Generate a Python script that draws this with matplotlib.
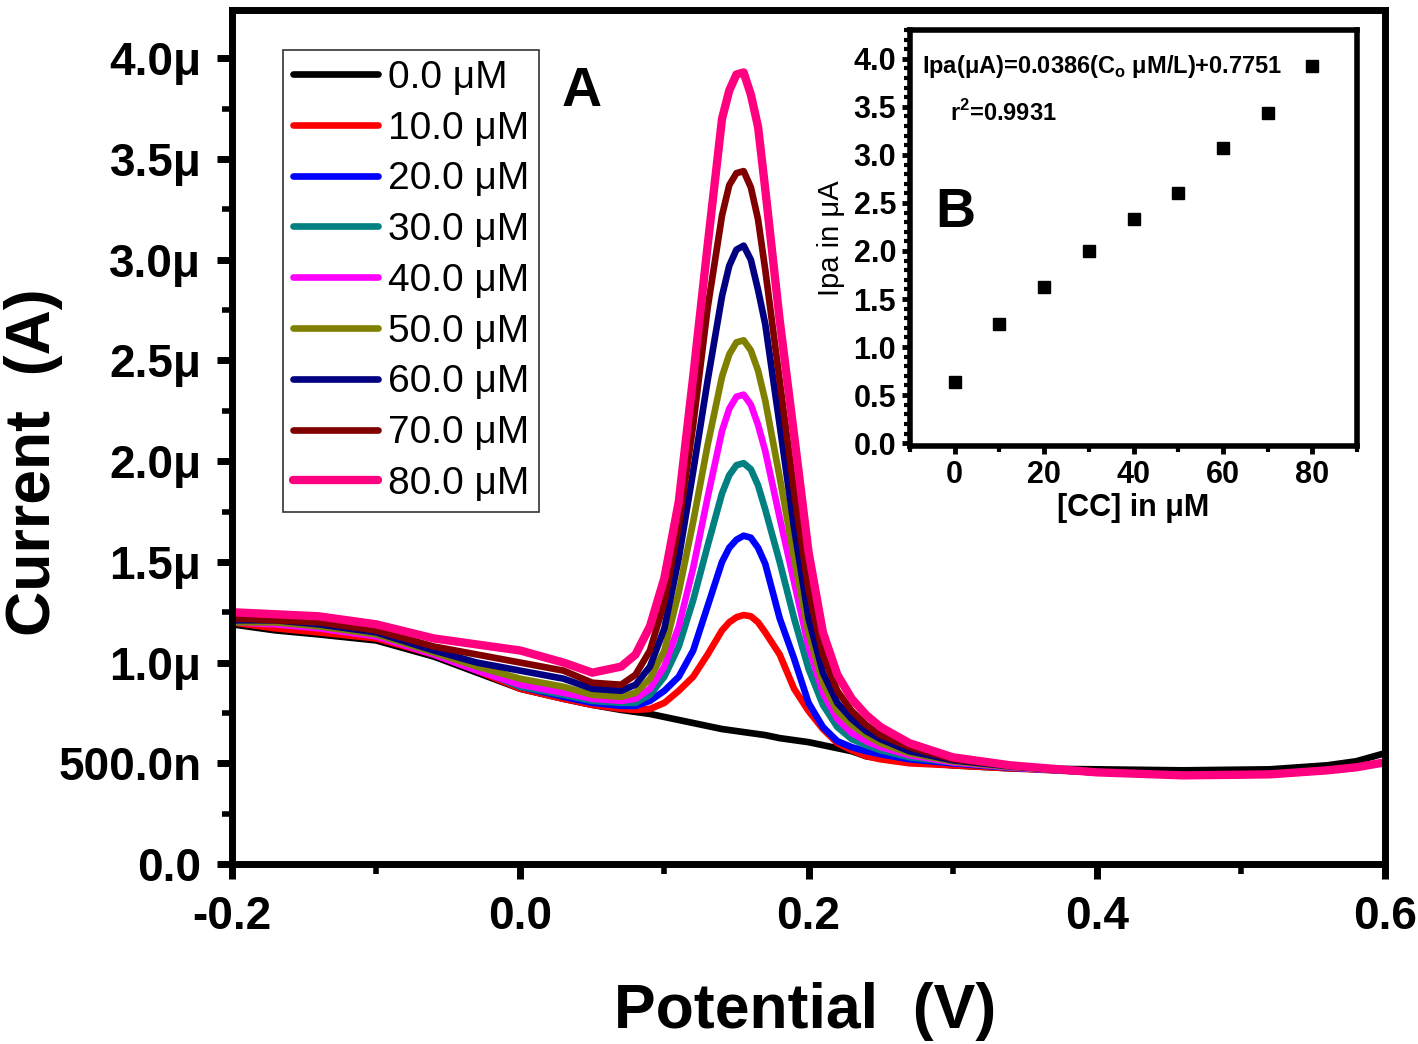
import numpy as np
import matplotlib
matplotlib.use("Agg")
import matplotlib.pyplot as plt
from matplotlib.ticker import MultipleLocator, FixedLocator, FixedFormatter

plt.rcParams['font.family'] = ['Liberation Sans', 'DejaVu Sans']
plt.rcParams['axes.unicode_minus'] = False

# potential grid (V) shared by all DPV traces
potential = [-0.20, -0.17, -0.14, -0.10, -0.06, -0.03, 0.00, 0.03, 0.05, 0.07,
             0.08, 0.09, 0.10, 0.11, 0.12, 0.13, 0.14, 0.145, 0.15, 0.155,
             0.16, 0.165, 0.17, 0.18, 0.19, 0.20, 0.21, 0.22, 0.23, 0.24,
             0.25, 0.27, 0.30, 0.34, 0.40, 0.46, 0.52, 0.56, 0.58, 0.60]

# current in uA
i_0 = [1.19, 1.16, 1.14, 1.11, 1.03, 0.95, 0.87, 0.82, 0.79, 0.765,
       0.755, 0.745, 0.73, 0.715, 0.70, 0.685, 0.67, 0.665, 0.66, 0.655,
       0.65, 0.645, 0.64, 0.625, 0.615, 0.605, 0.59, 0.575, 0.56, 0.535,
       0.525, 0.51, 0.49, 0.475, 0.47, 0.465, 0.47, 0.49, 0.51, 0.55]
i_10 = [1.20, 1.17, 1.15, 1.12, 1.04, 0.96, 0.87, 0.82, 0.79, 0.77,
        0.765, 0.77, 0.80, 0.86, 0.93, 1.04, 1.16, 1.20, 1.225, 1.236,
        1.23, 1.20, 1.15, 1.04, 0.87, 0.76, 0.67, 0.60, 0.565, 0.535,
        0.52, 0.50, 0.49, 0.475, 0.455, 0.44, 0.445, 0.465, 0.48, 0.505]
i_20 = [1.21, 1.22, 1.19, 1.14, 1.05, 0.97, 0.88, 0.83, 0.80, 0.785,
        0.785, 0.81, 0.86, 0.93, 1.06, 1.28, 1.50, 1.57, 1.61, 1.63,
        1.62, 1.57, 1.49, 1.22, 1.02, 0.80, 0.68, 0.61, 0.58, 0.56,
        0.545, 0.52, 0.50, 0.478, 0.455, 0.44, 0.445, 0.465, 0.48, 0.505]
i_30 = [1.20, 1.20, 1.18, 1.14, 1.05, 0.97, 0.88, 0.84, 0.81, 0.80,
        0.80, 0.84, 0.93, 1.08, 1.31, 1.58, 1.84, 1.93, 1.98, 1.99,
        1.96, 1.88, 1.76, 1.50, 1.22, 0.97, 0.79, 0.68, 0.62, 0.59,
        0.565, 0.53, 0.505, 0.48, 0.455, 0.44, 0.445, 0.465, 0.48, 0.505]
i_40 = [1.20, 1.19, 1.17, 1.13, 1.04, 0.96, 0.89, 0.85, 0.82, 0.81,
        0.82, 0.87, 0.98, 1.18, 1.47, 1.82, 2.15, 2.26, 2.32, 2.33,
        2.28, 2.18, 2.05, 1.72, 1.40, 1.08, 0.85, 0.72, 0.65, 0.61,
        0.58, 0.54, 0.505, 0.48, 0.455, 0.44, 0.445, 0.465, 0.48, 0.505]
i_50 = [1.20, 1.20, 1.18, 1.14, 1.05, 0.98, 0.92, 0.88, 0.84, 0.83,
        0.85, 0.92, 1.06, 1.35, 1.70, 2.08, 2.42, 2.53, 2.59, 2.60,
        2.55, 2.45, 2.30, 1.92, 1.52, 1.15, 0.90, 0.76, 0.69, 0.64,
        0.60, 0.55, 0.51, 0.482, 0.455, 0.44, 0.445, 0.465, 0.48, 0.505]
i_60 = [1.21, 1.21, 1.19, 1.15, 1.06, 1.00, 0.96, 0.92, 0.87, 0.86,
        0.89, 0.98, 1.17, 1.52, 1.95, 2.40, 2.82, 2.97, 3.05, 3.07,
        3.00, 2.85, 2.68, 2.18, 1.67, 1.22, 0.95, 0.80, 0.72, 0.66,
        0.62, 0.56, 0.515, 0.485, 0.455, 0.44, 0.445, 0.465, 0.48, 0.505]
i_70 = [1.22, 1.21, 1.20, 1.16, 1.08, 1.04, 1.00, 0.96, 0.90, 0.89,
        0.94, 1.06, 1.30, 1.68, 2.18, 2.76, 3.22, 3.37, 3.43, 3.44,
        3.36, 3.20, 2.95, 2.40, 1.85, 1.36, 1.04, 0.86, 0.76, 0.69,
        0.64, 0.58, 0.52, 0.488, 0.455, 0.44, 0.445, 0.465, 0.48, 0.505]
i_80 = [1.25, 1.24, 1.23, 1.19, 1.12, 1.09, 1.06, 1.00, 0.95, 0.98,
        1.04, 1.18, 1.42, 1.80, 2.42, 3.07, 3.70, 3.84, 3.92, 3.93,
        3.82, 3.66, 3.35, 2.70, 2.13, 1.55, 1.15, 0.94, 0.82, 0.74,
        0.68, 0.60, 0.53, 0.49, 0.455, 0.44, 0.445, 0.465, 0.48, 0.505]

labels = ['0.0 μM', '10.0 μM', '20.0 μM', '30.0 μM', '40.0 μM',
          '50.0 μM', '60.0 μM', '70.0 μM', '80.0 μM']
colors = ['#000000', '#FF0000', '#0000FF', '#008080', '#FF00FF',
          '#808000', '#000080', '#800000', '#FF0080']

ytick_vals = [0.0, 0.5, 1.0, 1.5, 2.0, 2.5, 3.0, 3.5, 4.0]
ytick_labels = ['0.0', '500.0n', '1.0μ', '1.5μ', '2.0μ', '2.5μ', '3.0μ', '3.5μ', '4.0μ']

# inset: peak current vs concentration
conc = [0, 10, 20, 30, 40, 50, 60, 70, 80]
ipa = [0.64, 1.24, 1.63, 2.00, 2.33, 2.60, 3.07, 3.44, 3.93]

W, H = 1418, 1044
fig = plt.figure(figsize=(W / 100, H / 100), dpi=100)

# main panel A
ax = fig.add_axes([232 / W, 1 - 864 / H, (1385 - 232) / W, (864 - 10) / H])
curves = [i_0, i_10, i_20, i_30, i_40, i_50, i_60, i_70, i_80]
for k, (y, c, lab) in enumerate(zip(curves, colors, labels)):
    lw = 6 if k == 8 else 4.8
    ax.plot(potential, y, color=c, lw=lw, label=lab,
            solid_capstyle='round', solid_joinstyle='round')

ax.set_xlim(-0.2, 0.6)
ax.set_ylim(0, 4.24)
ax.xaxis.set_major_locator(MultipleLocator(0.2))
ax.xaxis.set_minor_locator(MultipleLocator(0.1))
ax.yaxis.set_major_locator(FixedLocator(ytick_vals))
ax.yaxis.set_major_formatter(FixedFormatter(ytick_labels))
ax.yaxis.set_minor_locator(MultipleLocator(0.25))
for s in ax.spines.values():
    s.set_linewidth(5)
ax.tick_params(which='major', direction='out', length=11, width=5, labelsize=33, pad=11,
               top=False, right=False)
ax.tick_params(which='minor', direction='out', length=7, width=4, top=False, right=False)
for t in ax.get_xticklabels() + ax.get_yticklabels():
    t.set_fontweight('bold')
ax.set_xlabel('Potential  (V)', fontsize=45, fontweight='bold')
ax.set_ylabel('Current  (A)', fontsize=45, fontweight='bold')
ax.xaxis.set_label_coords(0.497, -0.138)
ax.yaxis.set_label_coords(-0.147, 0.47)

leg = ax.legend(loc='upper left', bbox_to_anchor=(283 / W, 1 - 50 / H),
                bbox_transform=fig.transFigure, borderaxespad=0,
                fontsize=28, handlelength=2.2, handletextpad=0.25,
                labelspacing=0.38, borderpad=0.25, fancybox=False,
                edgecolor='#333333', framealpha=1)
leg.get_frame().set_linewidth(1.2)

fig.text(582 / W, 1 - 92 / H, 'A', fontsize=40, fontweight='bold',
         ha='center', va='center')

# inset panel B
ax2 = fig.add_axes([910 / W, 1 - 446 / H, (1357 - 910) / W, (446 - 30) / H])
ax2.plot(conc, ipa, 's', color='black', ms=9)
ax2.set_xlim(-10, 90)
ax2.set_ylim(-0.03, 4.3)
ax2.xaxis.set_major_locator(MultipleLocator(20))
ax2.xaxis.set_minor_locator(MultipleLocator(10))
ax2.yaxis.set_major_locator(MultipleLocator(0.5))
ax2.yaxis.set_minor_locator(MultipleLocator(0.1))
for s in ax2.spines.values():
    s.set_linewidth(4)
ax2.tick_params(which='major', direction='out', length=6, width=3.5, labelsize=22, pad=4,
                top=False, right=False)
ax2.tick_params(which='minor', direction='out', length=4, width=3, top=False, right=False)
for t in ax2.get_xticklabels() + ax2.get_yticklabels():
    t.set_fontweight('bold')
ax2.set_xlabel('[CC] in μM', fontsize=22, fontweight='bold', labelpad=2)
ax2.set_ylabel('Ipa in μA', fontsize=21, labelpad=6)

fig.text(922 / W, 1 - 67 / H, r'Ipa(μA)=0.0386(C$_\mathregular{o}$ μM/L)+0.7751',
         fontsize=17, fontweight='bold', ha='left', va='center')
fig.text(950 / W, 1 - 113 / H, r'r$^\mathregular{2}$=0.9931',
         fontsize=17, fontweight='bold', ha='left', va='center')
fig.text(955 / W, 1 - 213 / H, 'B', fontsize=40, fontweight='bold',
         ha='center', va='center')

fig.savefig('out.png', dpi=100)
